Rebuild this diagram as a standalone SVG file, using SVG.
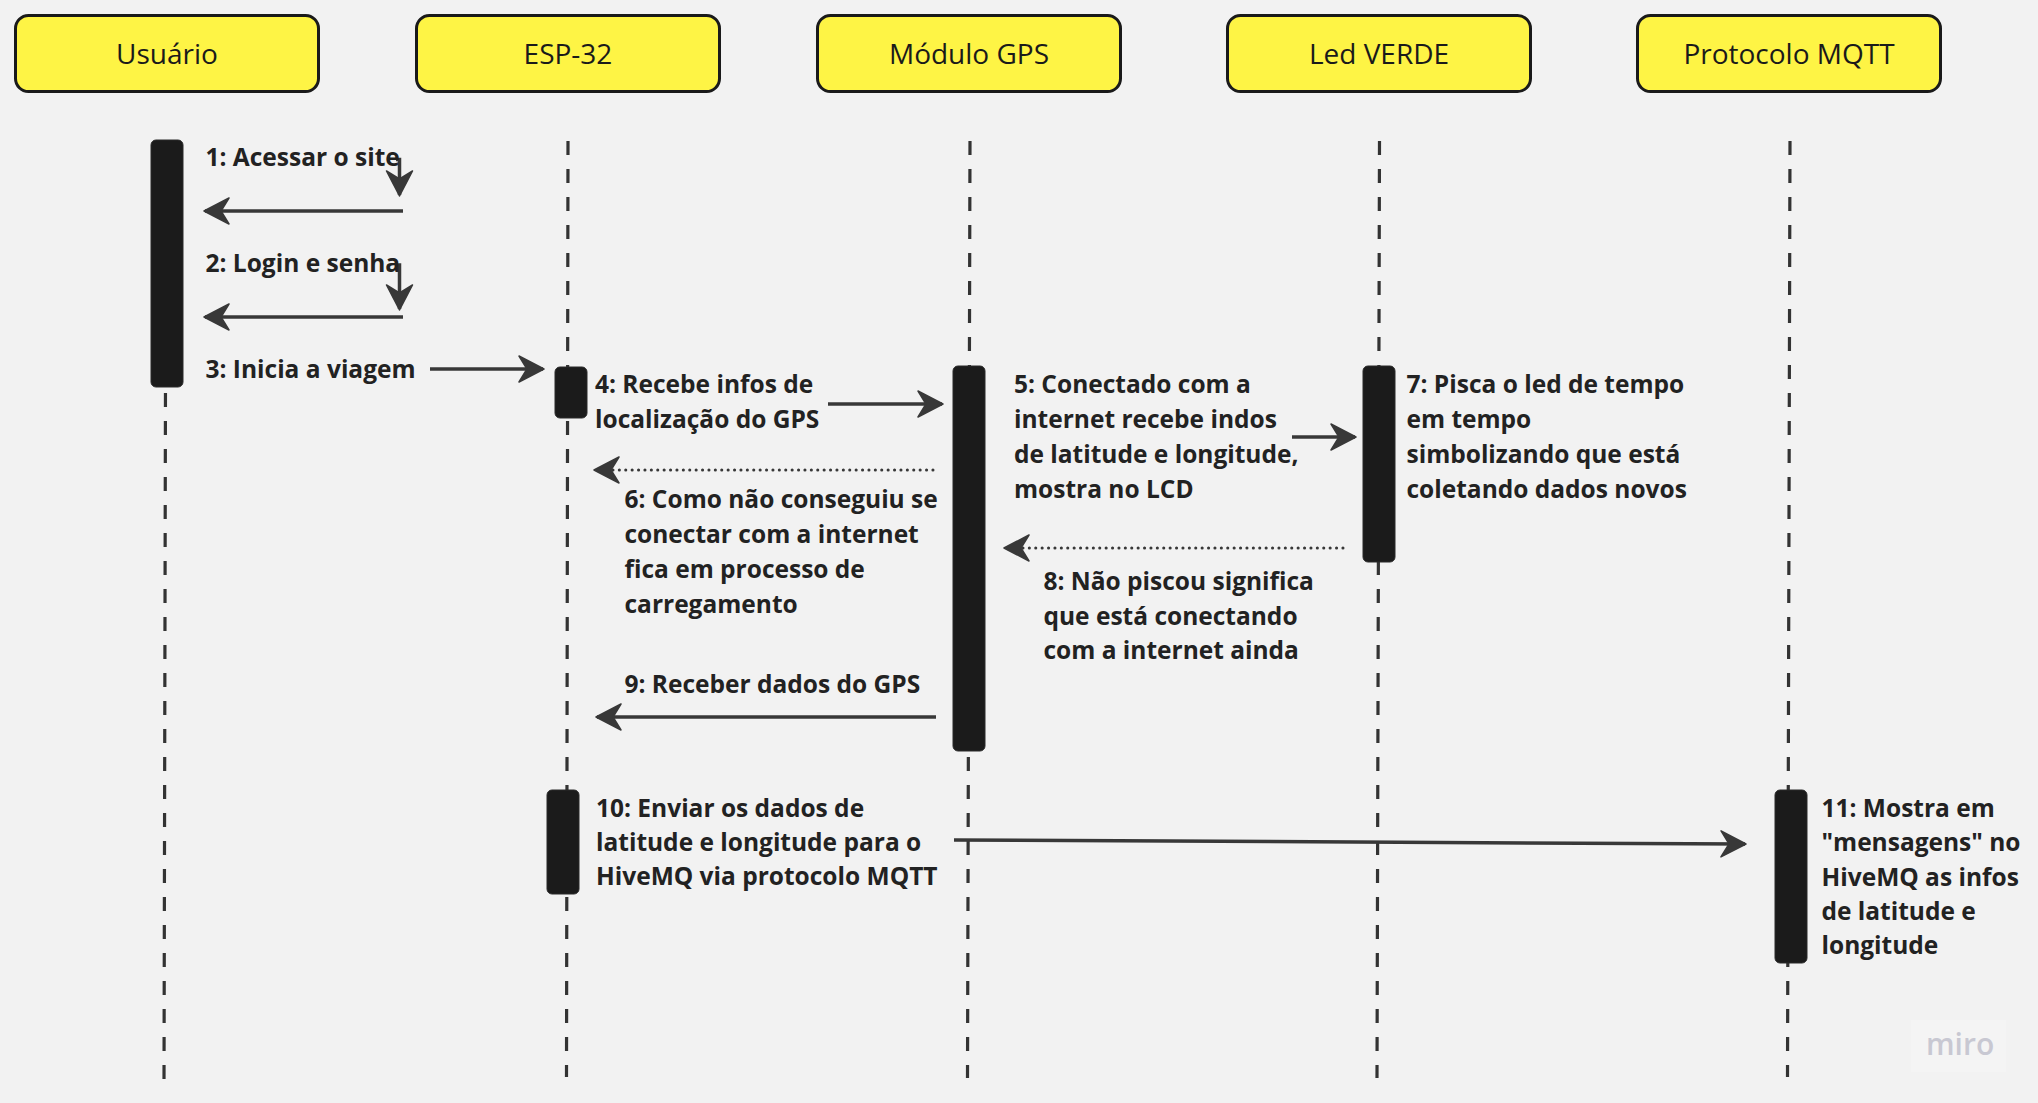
<svg xmlns="http://www.w3.org/2000/svg" width="2038" height="1103" viewBox="0 0 2038 1103">
<style>
.hdr{fill:#fef445;stroke:#1a1a1a;stroke-width:3}
.htx{font-family:"Open Sans","DejaVu Sans",sans-serif;font-size:28px;fill:#1a1a1a;text-anchor:middle}
.life{stroke:#333;stroke-width:3.2;stroke-dasharray:14 14;fill:none}
.act{fill:#1b1b1b;stroke:#2a2a2a;stroke-width:1}
.lbl{font-family:"Open Sans","DejaVu Sans",sans-serif;font-size:24.5px;font-weight:bold;fill:#222}
.msg{stroke:#383838;stroke-width:3.5;fill:none;marker-end:url(#ah)}
.dot{stroke:#383838;stroke-width:3;fill:none;stroke-dasharray:0.1 6.3;stroke-linecap:round;marker-end:url(#ah)}
</style>
<defs>
<marker id="ah" markerUnits="userSpaceOnUse" markerWidth="30" markerHeight="30" viewBox="-26 -15 30 30" refX="0" refY="0" orient="auto">
<path d="M1,0 L-24,-13 L-16,0 L-24,13 Z" fill="#383838" stroke="#383838" stroke-width="1.5" stroke-linejoin="round"/>
</marker>
</defs>
<rect width="2038" height="1103" fill="#f2f2f2"/>

<g id="lifelines">
<line class="life" x1="166" y1="141" x2="164" y2="1083"/>
<line class="life" x1="568" y1="141" x2="566.5" y2="1077"/>
<line class="life" x1="970" y1="141" x2="967.5" y2="1078"/>
<line class="life" x1="1379.5" y1="141" x2="1377" y2="1078"/>
<line class="life" x1="1790" y1="141" x2="1787.5" y2="1077"/>
</g>

<g id="node-usuario">
<rect class="hdr" x="15.5" y="15.5" width="303" height="76" rx="13"/>
<text class="htx" x="167" y="64">Usuário</text>
<rect class="act" x="151" y="140" width="32" height="247" rx="5"/>
</g>
<g id="node-esp32">
<rect class="hdr" x="416.5" y="15.5" width="303" height="76" rx="13"/>
<text class="htx" x="568" y="64">ESP-32</text>
<rect class="act" x="555" y="367" width="32" height="51" rx="5"/>
<rect class="act" x="547" y="790" width="32" height="104" rx="5"/>
</g>
<g id="node-gps">
<rect class="hdr" x="817.5" y="15.5" width="303" height="76" rx="13"/>
<text class="htx" x="969" y="64">Módulo GPS</text>
<rect class="act" x="953" y="366" width="32" height="385" rx="5"/>
</g>
<g id="node-led">
<rect class="hdr" x="1227.5" y="15.5" width="303" height="76" rx="13"/>
<text class="htx" x="1379" y="64">Led VERDE</text>
<rect class="act" x="1363" y="366" width="32" height="196" rx="5"/>
</g>
<g id="node-mqtt">
<rect class="hdr" x="1637.5" y="15.5" width="303" height="76" rx="13"/>
<text class="htx" x="1789" y="64">Protocolo MQTT</text>
<rect class="act" x="1775" y="790" width="32" height="173" rx="5"/>
</g>

<g id="connectors">
<path class="msg" d="M396,159.5 H399.5 V195"/>
<path class="msg" d="M403,211 L205,211"/>
<path class="msg" d="M396,265 H399.5 V309"/>
<path class="msg" d="M403,317 L205,317"/>
<path class="msg" d="M430,369 L543,369"/>
<path class="msg" d="M828,404 L942,404"/>
<path class="dot" d="M933,470 L595,470"/>
<path class="msg" d="M1292,437 L1355,437"/>
<path class="dot" d="M1343,548 L1005,548"/>
<path class="msg" d="M936,717 L597,717"/>
<path class="msg" d="M954,840 L1745,844"/>
</g>

<g id="labels">
<text class="lbl" x="205.5" y="166">1: Acessar o site</text>
<text class="lbl" x="205.5" y="272">2: Login e senha</text>
<text class="lbl" x="205.5" y="378">3: Inicia a viagem</text>
<text class="lbl"><tspan x="595" y="393">4: Recebe infos de</tspan><tspan x="595" y="428">localização do GPS</tspan></text>
<text class="lbl"><tspan x="1014" y="393">5: Conectado com a</tspan><tspan x="1014" y="428">internet recebe indos</tspan><tspan x="1014" y="463">de latitude e longitude,</tspan><tspan x="1014" y="498">mostra no LCD</tspan></text>
<text class="lbl"><tspan x="624.5" y="508">6: Como não conseguiu se</tspan><tspan x="624.5" y="543">conectar com a internet</tspan><tspan x="624.5" y="578">fica em processo de</tspan><tspan x="624.5" y="613">carregamento</tspan></text>
<text class="lbl"><tspan x="1406.5" y="393">7: Pisca o led de tempo</tspan><tspan x="1406.5" y="428">em tempo</tspan><tspan x="1406.5" y="463">simbolizando que está</tspan><tspan x="1406.5" y="498">coletando dados novos</tspan></text>
<text class="lbl"><tspan x="1043.5" y="590">8: Não piscou significa</tspan><tspan x="1043.5" y="625">que está conectando</tspan><tspan x="1043.5" y="659">com a internet ainda</tspan></text>
<text class="lbl" x="624.5" y="693">9: Receber dados do GPS</text>
<text class="lbl"><tspan x="596" y="817">10: Enviar os dados de</tspan><tspan x="596" y="851">latitude e longitude para o</tspan><tspan x="596" y="885">HiveMQ via protocolo MQTT</tspan></text>
<text class="lbl"><tspan x="1821.5" y="817">11: Mostra em</tspan><tspan x="1821.5" y="851">"mensagens" no</tspan><tspan x="1821.5" y="886">HiveMQ as infos</tspan><tspan x="1821.5" y="920">de latitude e</tspan><tspan x="1821.5" y="954">longitude</tspan></text>
</g>

<g id="watermark">
<rect x="1911" y="1020" width="95" height="52" fill="#f4f4f4"/>
<text x="1926" y="1055" font-family="'Open Sans','DejaVu Sans',sans-serif" font-size="30" font-weight="600" fill="#c8c8d2">miro</text>
</g>
</svg>
